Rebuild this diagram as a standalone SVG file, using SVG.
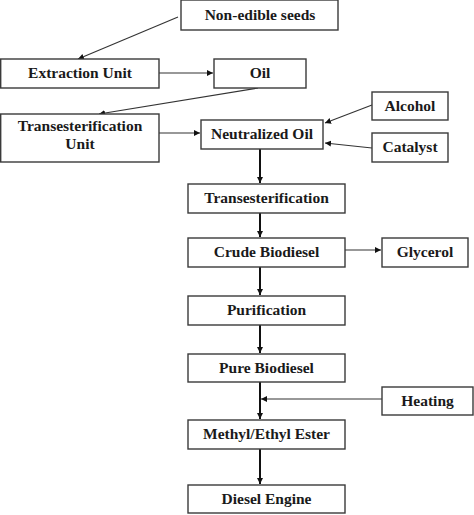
<svg xmlns="http://www.w3.org/2000/svg" width="474" height="515" viewBox="0 0 474 515">
<style>
.box{fill:#fff;stroke:#3a3a3a;stroke-width:1.4}
.t{font-family:"Liberation Serif","Times New Roman",serif;font-weight:bold;font-size:15.5px;fill:#1a1a1a;text-anchor:middle}
.c{fill:none;stroke:#333;stroke-width:1.1}
.v{fill:none;stroke:#111;stroke-width:2}
</style>
<defs>
<marker id="ah" markerUnits="userSpaceOnUse" markerWidth="7" markerHeight="7" refX="6" refY="3" orient="auto">
<path d="M0,0 L6,3 L0,6 z" fill="#111"/>
</marker>
</defs>
<rect width="474" height="515" fill="#fff"/>
<g id="connectors">
<line class="c" x1="178" y1="17" x2="78" y2="59" marker-end="url(#ah)"/>
<line class="c" x1="159" y1="73" x2="213" y2="73" marker-end="url(#ah)"/>
<line class="c" x1="258" y1="88" x2="99" y2="114" marker-end="url(#ah)"/>
<line class="c" x1="159" y1="133" x2="200" y2="133" marker-end="url(#ah)"/>
<line class="c" x1="372" y1="105" x2="325" y2="123" marker-end="url(#ah)"/>
<line class="c" x1="372" y1="148" x2="325" y2="143" marker-end="url(#ah)"/>
<line class="v" x1="260" y1="149" x2="260" y2="183" marker-end="url(#ah)"/>
<line class="v" x1="260" y1="213" x2="260" y2="237" marker-end="url(#ah)"/>
<line class="v" x1="260" y1="267" x2="260" y2="295" marker-end="url(#ah)"/>
<line class="v" x1="260" y1="325" x2="260" y2="353" marker-end="url(#ah)"/>
<line class="v" x1="260" y1="382" x2="260" y2="419" marker-end="url(#ah)"/>
<line class="v" x1="260" y1="449" x2="260" y2="484" marker-end="url(#ah)"/>
<line class="c" x1="345" y1="250" x2="381" y2="250" marker-end="url(#ah)"/>
<line class="c" x1="382" y1="399" x2="261" y2="399" marker-end="url(#ah)"/>
</g>
<g id="n-seeds"><rect class="box" x="181" y="0" width="157" height="30"/><text class="t" x="260" y="20">Non-edible seeds</text></g>
<g id="n-extraction"><rect class="box" x="0.7" y="59" width="158.3" height="29"/><text class="t" x="80" y="78">Extraction Unit</text></g>
<g id="n-oil"><rect class="box" x="214" y="59" width="92" height="29"/><text class="t" x="260" y="78">Oil</text></g>
<g id="n-transunit"><rect class="box" x="0.7" y="114" width="158.3" height="48"/><text class="t" x="80" y="131">Transesterification</text><text class="t" x="80" y="149">Unit</text></g>
<g id="n-neutralized"><rect class="box" x="201" y="120" width="122" height="29"/><text class="t" x="262" y="139">Neutralized Oil</text></g>
<g id="n-alcohol"><rect class="box" x="372" y="92" width="76" height="28"/><text class="t" x="410" y="111">Alcohol</text></g>
<g id="n-catalyst"><rect class="box" x="372" y="133" width="76" height="29"/><text class="t" x="410" y="152">Catalyst</text></g>
<g id="n-trans"><rect class="box" x="188" y="184" width="157" height="29"/><text class="t" x="266.5" y="203">Transesterification</text></g>
<g id="n-crude"><rect class="box" x="188" y="238" width="157" height="29"/><text class="t" x="266.5" y="257">Crude Biodiesel</text></g>
<g id="n-glycerol"><rect class="box" x="382" y="238" width="86" height="29"/><text class="t" x="425" y="257">Glycerol</text></g>
<g id="n-purification"><rect class="box" x="188" y="296" width="157" height="29"/><text class="t" x="266.5" y="315">Purification</text></g>
<g id="n-pure"><rect class="box" x="188" y="354" width="157" height="28"/><text class="t" x="266.5" y="373">Pure Biodiesel</text></g>
<g id="n-heating"><rect class="box" x="382" y="387" width="91" height="28"/><text class="t" x="427.5" y="406">Heating</text></g>
<g id="n-ester"><rect class="box" x="188" y="420" width="157" height="29"/><text class="t" x="266.5" y="439">Methyl/Ethyl Ester</text></g>
<g id="n-engine"><rect class="box" x="188" y="485" width="157" height="28"/><text class="t" x="266.5" y="504">Diesel Engine</text></g>
</svg>
